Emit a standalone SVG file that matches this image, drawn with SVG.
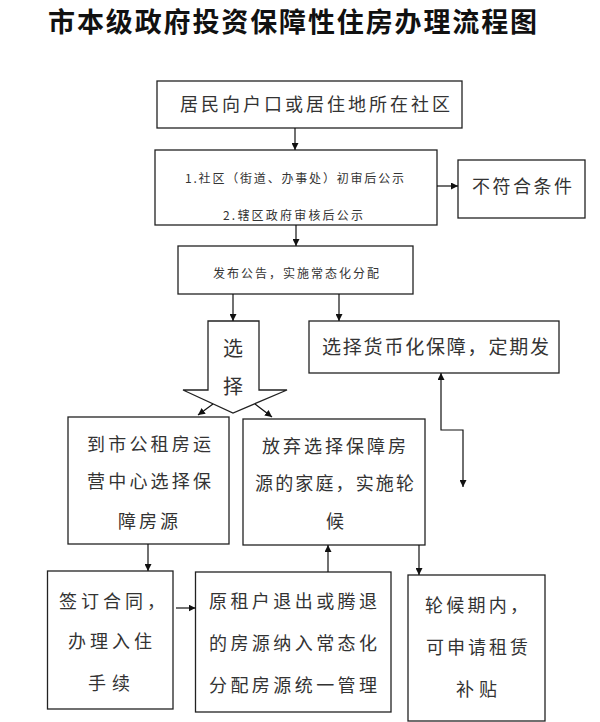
<svg xmlns="http://www.w3.org/2000/svg" width="600" height="722" viewBox="0 0 600 722">
<defs>
<marker id="ah" viewBox="0 0 10 10" refX="10" refY="5" markerWidth="7" markerHeight="7" markerUnits="userSpaceOnUse" orient="auto-start-reverse">
<path d="M0,0 L10,5 L0,10 z" fill="#111"/>
</marker>
<style>
.box{fill:#fff;stroke:#222;stroke-width:1.3}
.t{font-family:"Noto Sans CJK SC","Noto Sans",sans-serif;fill:#333;dominant-baseline:central}
.c{fill:none;stroke:#111;stroke-width:1.2;marker-end:url(#ah)}
</style>
</defs>
<rect width="600" height="722" fill="#fff"/>
<text x="48" y="20" textLength="489" lengthAdjust="spacing" style="font-family:'Noto Sans CJK SC',sans-serif;font-weight:bold;font-size:27px;fill:#111;dominant-baseline:central">市本级政府投资保障性住房办理流程图</text>

<g id="n1"><rect class="box" x="157" y="81" width="305" height="47"/>
<text class="t" x="180" y="103" font-size="18" textLength="270" lengthAdjust="spacing">居民向户口或居住地所在社区</text></g>

<g id="n2"><rect class="box" x="155" y="150" width="282" height="75"/>
<text class="t" x="185" y="177" font-size="12" textLength="219" lengthAdjust="spacing">1.社区（街道、办事处）初审后公示</text>
<text class="t" x="223" y="214" font-size="12" textLength="140" lengthAdjust="spacing">2.辖区政府审核后公示</text></g>

<g id="n3"><rect class="box" x="458" y="160" width="127" height="58"/>
<text class="t" x="472" y="185" font-size="18" textLength="100" lengthAdjust="spacing">不符合条件</text></g>

<g id="n4"><rect class="box" x="178" y="246" width="235" height="48"/>
<text class="t" x="213" y="272" font-size="12" textLength="166" lengthAdjust="spacing">发布公告，实施常态化分配</text></g>

<g id="n5"><polygon points="208,321 259,321 259,390 287,390 233,413 183,390 208,390" fill="#fff" stroke="#222" stroke-width="1.3"/>
<text class="t" x="233" y="347" font-size="20" text-anchor="middle">选</text>
<text class="t" x="233" y="385" font-size="20" text-anchor="middle">择</text></g>

<g id="n6"><rect class="box" x="309" y="321" width="250" height="52"/>
<text class="t" x="322" y="345" font-size="19" textLength="227" lengthAdjust="spacing">选择货币化保障，定期发</text></g>

<g id="n7"><rect class="box" x="68" y="417" width="161" height="127"/>
<text class="t" x="87" y="443" font-size="18" textLength="124" lengthAdjust="spacing">到市公租房运</text>
<text class="t" x="87" y="480" font-size="18" textLength="124" lengthAdjust="spacing">营中心选择保</text>
<text class="t" x="118" y="520" font-size="18" textLength="60" lengthAdjust="spacing">障房源</text></g>

<g id="n8"><rect class="box" x="243" y="419" width="182" height="126"/>
<text class="t" x="262" y="445" font-size="18" textLength="144" lengthAdjust="spacing">放弃选择保障房</text>
<text class="t" x="255" y="482" font-size="18" textLength="159" lengthAdjust="spacing">源的家庭，实施轮</text>
<text class="t" x="335" y="520" font-size="18" text-anchor="middle">候</text></g>

<g id="n9"><rect class="box" x="47.5" y="571" width="125.5" height="138"/>
<text class="t" x="59" y="600" font-size="18" textLength="106" lengthAdjust="spacing">签订合同，</text>
<text class="t" x="68" y="640" font-size="18" textLength="84" lengthAdjust="spacing">办理入住</text>
<text class="t" x="88" y="682" font-size="18" textLength="42" lengthAdjust="spacing">手续</text></g>

<g id="n10"><rect class="box" x="195.5" y="572" width="195.5" height="140"/>
<text class="t" x="209" y="600" font-size="18" textLength="168" lengthAdjust="spacing">原租户退出或腾退</text>
<text class="t" x="209" y="642" font-size="18" textLength="168" lengthAdjust="spacing">的房源纳入常态化</text>
<text class="t" x="209" y="684" font-size="18" textLength="168" lengthAdjust="spacing">分配房源统一管理</text></g>

<g id="n11"><rect class="box" x="408" y="575" width="137" height="146"/>
<text class="t" x="425" y="604" font-size="18" textLength="103" lengthAdjust="spacing">轮候期内，</text>
<text class="t" x="426" y="646" font-size="18" textLength="102" lengthAdjust="spacing">可申请租赁</text>
<text class="t" x="456" y="688" font-size="18" textLength="41" lengthAdjust="spacing">补贴</text></g>

<g id="connectors">
<line class="c" x1="295" y1="128" x2="295" y2="150"/>
<line class="c" x1="437" y1="186" x2="458" y2="186"/>
<line class="c" x1="296" y1="225" x2="296" y2="246"/>
<line class="c" x1="233" y1="294" x2="233" y2="321"/>
<line class="c" x1="339" y1="294" x2="339" y2="321"/>
<line class="c" x1="213" y1="404" x2="198" y2="415"/>
<line class="c" x1="255" y1="404" x2="272" y2="417"/>
<line class="c" x1="148" y1="544" x2="148" y2="571"/>
<line class="c" x1="176" y1="608" x2="195.5" y2="608"/>
<line class="c" x1="328" y1="572" x2="328" y2="545"/>
<line class="c" x1="419" y1="545" x2="419" y2="575"/>
<path class="c" d="M441,373 L441,430 L463,430 L463,487" style="marker-start:url(#ah)"/>
</g>
</svg>
